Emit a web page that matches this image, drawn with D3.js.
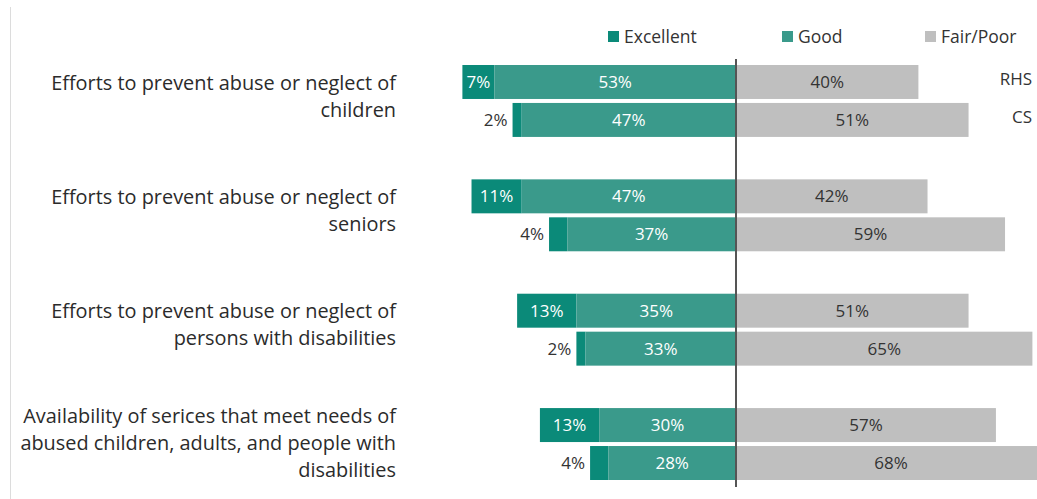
<!DOCTYPE html>
<html><head><meta charset="utf-8">
<script src="https://cdn.jsdelivr.net/npm/d3@7"></script>
<style>body{margin:0;background:#fff}svg{display:block}text{font-family:"Open Sans",sans-serif}</style>
</head><body><svg id="c" width="1037" height="499"></svg>
<script>
const categories = [
  ["Efforts to prevent abuse or neglect of", "children"],
  ["Efforts to prevent abuse or neglect of", "seniors"],
  ["Efforts to prevent abuse or neglect of", "persons with disabilities"],
  ["Availability of serices that meet needs of", "abused children, adults, and people with", "disabilities"]
];
const groups = ["RHS", "CS"];
const seriesNames = ["Excellent", "Good", "Fair/Poor"];
const excellentRHS = [7, 11, 13, 13];
const goodRHS = [53, 47, 35, 30];
const fairRHS = [40, 42, 51, 57];
const excellentCS = [2, 4, 2, 4];
const goodCS = [47, 37, 33, 28];
const fairCS = [51, 59, 65, 68];

const colors = {"Excellent": "#0b8a79", "Good": "#3a9a8b", "Fair/Poor": "#bfbfbf"};

const svg = d3.select("#c");
const x = d3.scaleLinear().domain([-100, 100]).range([736 - 456, 736 + 456]);
const y = d3.scaleBand().domain(d3.range(categories.length)).range([65, 480]).paddingInner(0.371).paddingOuter(0);
const yi = d3.scaleBand().domain(groups).range([0, y.bandwidth()]).paddingInner(0.105);

// left border
svg.append("line").attr("x1", 10.5).attr("x2", 10.5).attr("y1", 7).attr("y2", 499)
  .attr("stroke", "#dcdcdc").attr("stroke-width", 1);

const rows = [];
categories.forEach((c, i) => {
  const data = {
    RHS: [excellentRHS[i], goodRHS[i], fairRHS[i]],
    CS: [excellentCS[i], goodCS[i], fairCS[i]]
  };
  groups.forEach(g => {
    const [e, gd, f] = data[g];
    rows.push({i, g, segs: [
      {s: "Excellent", x0: -(e + gd), x1: -gd, v: e},
      {s: "Good", x0: -gd, x1: 0, v: gd},
      {s: "Fair/Poor", x0: 0, x1: f, v: f}
    ]});
  });
});

rows.forEach(r => {
  const y0 = y(r.i) + yi(r.g);
  const h = yi.bandwidth();
  const gEl = svg.append("g");
  r.segs.forEach(sg => {
    gEl.append("rect").attr("x", x(sg.x0)).attr("y", y0).attr("width", x(sg.x1) - x(sg.x0)).attr("height", h)
      .attr("fill", colors[sg.s]);
  });
  r.segs.forEach(sg => {
    let tx, anchor = "middle", fill;
    if (sg.s === "Excellent" && sg.v < 5) {
      tx = x(sg.x0) - 5; anchor = "end"; fill = "#333";
    } else {
      tx = (x(sg.x0) + x(sg.x1)) / 2;
      fill = sg.s === "Fair/Poor" ? "#333" : "#fff";
    }
    gEl.append("text").attr("x", tx).attr("y", y0 + h / 2).attr("dy", "0.36em")
      .attr("text-anchor", anchor).attr("fill", fill).attr("font-size", 17).text(sg.v + "%");
  });
});

// group labels for first category
groups.forEach(g => {
  svg.append("text").attr("x", 1032).attr("y", y(0) + yi(g) + yi.bandwidth() / 2 - 3).attr("dy", "0.36em")
    .attr("text-anchor", "end").attr("fill", "#333").attr("font-size", 17).text(g);
});

// center line
svg.append("line").attr("x1", x(0)).attr("x2", x(0)).attr("y1", 59).attr("y2", 487)
  .attr("stroke", "#555").attr("stroke-width", 2);

// category labels
const lh = 27;
categories.forEach((lines, i) => {
  const cy = y(i) + y.bandwidth() / 2 - (lines.length === 2 ? 5 : 1);
  const t = svg.append("text").attr("text-anchor", "end").attr("fill", "#2b2b2b").attr("font-size", 19.9);
  lines.forEach((ln, k) => {
    t.append("tspan").attr("x", 396).attr("y", cy + (k - (lines.length - 1) / 2) * lh).attr("dy", "0.36em").text(ln);
  });
});

// legend
const legX = [608, 782, 925];
seriesNames.forEach((s, k) => {
  svg.append("rect").attr("x", legX[k]).attr("y", 31).attr("width", 11).attr("height", 11).attr("fill", colors[s]);
  svg.append("text").attr("x", legX[k] + 16).attr("y", 36.5).attr("dy", "0.36em").attr("fill", "#333")
    .attr("font-size", 17.5).text(s);
});
</script></body></html>
